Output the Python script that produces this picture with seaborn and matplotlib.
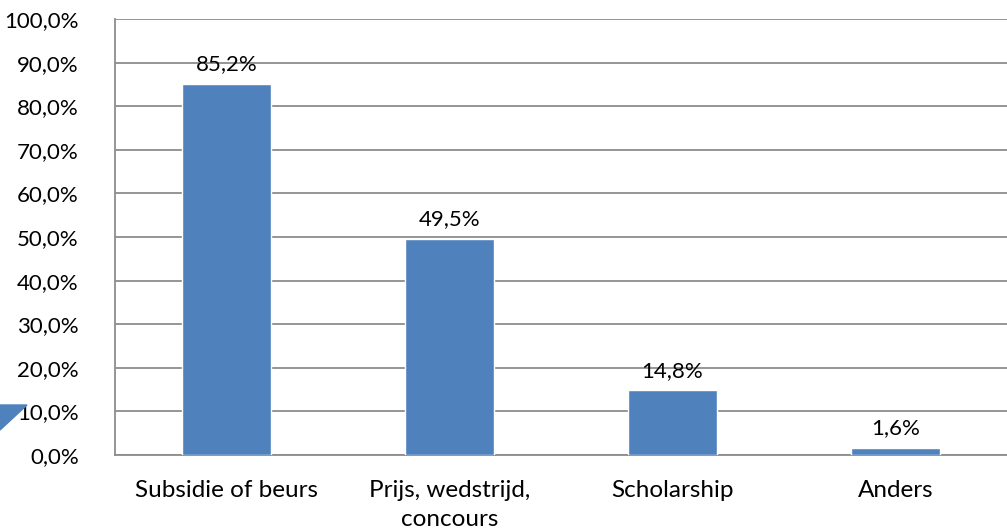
import matplotlib.pyplot as plt
import seaborn as sns
import pandas as pd
from matplotlib.patches import Polygon
from matplotlib import ticker

categorieen = ['Subsidie of beurs', 'Prijs, wedstrijd,\nconcours', 'Scholarship', 'Anders']
percentages = [85.2, 49.5, 14.8, 1.6]
labels = ['85,2%', '49,5%', '14,8%', '1,6%']

df = pd.DataFrame({'categorie': categorieen, 'pct': percentages})

sns.set_style('white')
plt.rcParams['font.family'] = ['Lato', 'DejaVu Sans']

fig = plt.figure(figsize=(10.07, 5.32), dpi=100)
ax = fig.add_axes([115 / 1007, 77 / 532, 892 / 1007, 436 / 532])

sns.barplot(data=df, x='categorie', y='pct', color='#4F81BD', width=0.4,
            saturation=1, ax=ax, zorder=3)

for i, (v, lab) in enumerate(zip(percentages, labels)):
    ax.annotate(lab, (i, v), xytext=(0, 7), textcoords='offset points',
                ha='center', va='bottom', fontsize=16, color='black')

ax.set_ylim(0, 100)
ax.set_xlim(-0.5, 3.5)
ax.yaxis.set_major_locator(ticker.MultipleLocator(10))
ax.yaxis.set_major_formatter(ticker.FuncFormatter(lambda v, p: f'{v:.1f}%'.replace('.', ',')))
ax.grid(axis='y', color='#8C8C8C', linewidth=1.3, zorder=0)
ax.set_axisbelow(True)
ax.set_xlabel('')
ax.set_ylabel('')
for s in ['top', 'right']:
    ax.spines[s].set_visible(False)
for s in ['left', 'bottom']:
    ax.spines[s].set_color('#8C8C8C')
    ax.spines[s].set_linewidth(1.3)
ax.tick_params(axis='y', length=0, labelsize=16, pad=26, labelcolor='black')
ax.tick_params(axis='x', length=0, labelsize=17.5, pad=18, labelcolor='black')
for t in ax.get_xticklabels():
    t.set_linespacing(1.5)

# blauwe driehoek linksonder (rest van een vorm in de bron)
tri = Polygon([(0, 1 - 405 / 532), (27 / 1007, 1 - 405 / 532), (0, 1 - 430 / 532)],
              closed=True, transform=fig.transFigure, color='#4F81BD', clip_on=False)
fig.patches.append(tri)

plt.savefig('out.png', dpi=100)
